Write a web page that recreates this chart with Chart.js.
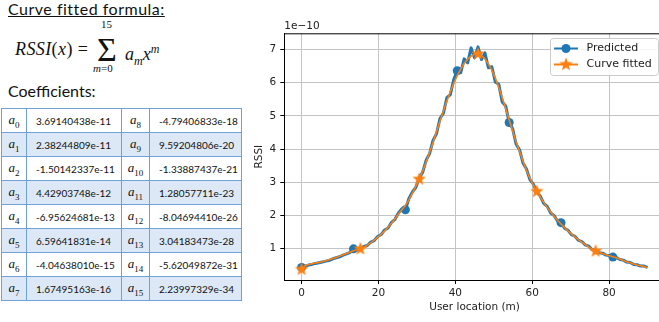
<!DOCTYPE html>
<html>
<head>
<meta charset="utf-8">
<script src="https://cdn.jsdelivr.net/npm/chart.js@4.4.1/dist/chart.umd.min.js"></script>
<style>
  html, body { margin: 0; padding: 0; width: 659px; height: 322px; overflow: hidden; background: #fff; }
  .abs { position: absolute; white-space: nowrap; color: #111; }
  .head { font-family: Lato, sans-serif; font-size: 16px; line-height: 16px; }
  .math { font-family: "Liberation Serif", serif; font-size: 18px; line-height: 18px; }
  #coef { position: absolute; left: 1px; top: 108px; width: 240px; border-collapse: collapse; table-layout: fixed; }
  #coef tr { height: 24px; }
  #coef td { border: 1px solid #6fa1d9; padding: 0; font-family: Lato, sans-serif; font-size: 10px; color: #111; white-space: nowrap; overflow: hidden; }
  #coef tr:nth-child(even) td { background: #dce8f5; }
  #coef td.k { text-align: center; font-family: "Liberation Serif", serif; font-style: italic; font-size: 13px; }
  #coef td.k sub { font-size: 9px; font-style: normal; }
  #coef td.v { padding-left: 9px; }
  #chartBox { position: absolute; left: 250px; top: 0; width: 430px; height: 322px; }
</style>
</head>
<body>
<div class="abs head" style="left:8px;top:1px;text-decoration:underline;letter-spacing:0.5px;">Curve fitted formula:</div>
<div class="abs math" style="left:15px;top:40px;letter-spacing:0.4px;"><i>RSSI</i>(<i>x</i>) =</div>
<div class="abs math" style="left:97px;top:33px;font-size:34px;line-height:34px;">&Sigma;</div>
<div class="abs math" style="left:101px;top:19px;font-size:11px;line-height:11px;">15</div>
<div class="abs math" style="left:93px;top:63px;font-size:11px;line-height:11px;"><i>m</i>=0</div>
<div class="abs math" style="left:125px;top:40px;"><i>a</i><sub style="font-size:12px;"><i>m</i></sub><i>x</i><sup style="font-size:12px;"><i>m</i></sup></div>
<div class="abs head" style="left:8px;top:83px;">Coefficients:</div>
<table id="coef">
  <colgroup><col style="width:25px"><col style="width:95px"><col style="width:28px"><col style="width:92px"></colgroup>
  <tbody id="coefBody"></tbody>
</table>
<div id="chartBox"><canvas id="chart"></canvas></div>
<script>
// coefficient table text
const coefLeft = ['3.69140438e-11', '2.38244809e-11', '-1.50142337e-11', '4.42903748e-12',
  '-6.95624681e-13', '6.59641831e-14', '-4.04638010e-15', '1.67495163e-16'];
const coefRight = ['-4.79406833e-18', '9.59204806e-20', '-1.33887437e-21', '1.28057711e-23',
  '-8.04694410e-26', '3.04183473e-28', '-5.62049872e-31', '2.23997329e-34'];

// chart data (RSSI in units of 1e-10), sampled every 0.9 m
const STEP = 0.9;
const xTicks = [0, 20, 40, 60, 80];
const yTicks = [1, 2, 3, 4, 5, 6, 7];
const predicted = [
  0.43, 0.46, 0.50, 0.52, 0.55, 0.57, 0.59, 0.62, 0.64, 0.69,
  0.72, 0.75, 0.80, 0.84, 0.88, 0.99, 0.95, 1.00, 1.06, 1.09,
  1.19, 1.24, 1.36, 1.42, 1.56, 1.62, 1.79, 1.88, 2.07, 2.20,
  2.17, 2.50, 2.70, 2.84, 3.12, 3.30, 3.66, 3.86, 4.26, 4.46,
  4.92, 5.08, 5.55, 5.64, 6.10, 6.36, 6.30, 6.72, 6.60, 7.05,
  6.75, 7.08, 6.70, 6.90, 6.45, 6.48, 6.02, 5.95, 5.42, 5.30,
  4.80, 4.62, 4.15, 3.98, 3.58, 3.40, 3.08, 2.94, 2.70, 2.58,
  2.36, 2.27, 2.07, 1.99, 1.83, 1.78, 1.61, 1.55, 1.42, 1.37,
  1.25, 1.21, 1.11, 1.07, 0.97, 0.93, 0.87, 0.86, 0.80, 0.79,
  0.74, 0.73, 0.67, 0.65, 0.59, 0.58, 0.52, 0.51, 0.47, 0.47,
  0.43
];
const curveFitted = [
  0.37, 0.48, 0.52, 0.54, 0.56, 0.58, 0.60, 0.63, 0.66, 0.70,
  0.73, 0.77, 0.81, 0.85, 0.89, 0.93, 0.96, 0.99, 1.04, 1.10,
  1.17, 1.25, 1.34, 1.43, 1.53, 1.64, 1.76, 1.90, 2.04, 2.17,
  2.30, 2.46, 2.66, 2.87, 3.09, 3.33, 3.60, 3.90, 4.20, 4.52,
  4.84, 5.15, 5.45, 5.73, 5.98, 6.21, 6.41, 6.58, 6.71, 6.80,
  6.86, 6.87, 6.82, 6.72, 6.57, 6.38, 6.14, 5.86, 5.55, 5.22,
  4.88, 4.55, 4.22, 3.93, 3.64, 3.36, 3.12, 2.91, 2.72, 2.55,
  2.39, 2.24, 2.10, 1.97, 1.85, 1.74, 1.63, 1.53, 1.44, 1.35,
  1.27, 1.19, 1.12, 1.05, 0.98, 0.92, 0.88, 0.85, 0.81, 0.78,
  0.75, 0.72, 0.68, 0.64, 0.60, 0.57, 0.53, 0.50, 0.48, 0.46,
  0.42
];
const userLocation = predicted.map((_, i) => Math.round(i * STEP * 10) / 10);

const BLUE = '#1f77b4';
const ORANGE = '#ff7f0e';

// table
const body = document.getElementById('coefBody');
coefLeft.forEach((v, i) => {
  const tr = document.createElement('tr');
  tr.innerHTML = '<td class="k">a<sub>' + i + '</sub></td><td class="v">' + v +
    '</td><td class="k">a<sub>' + (i + 8) + '</sub></td><td class="v">' + coefRight[i] + '</td>';
  body.appendChild(tr);
});

// filled five point star like matplotlib's '*'
function makeStar(r, color) {
  const s = Math.ceil(r * 2 + 2);
  const c = document.createElement('canvas');
  c.width = s; c.height = s;
  const g = c.getContext('2d');
  g.fillStyle = color;
  g.beginPath();
  for (let k = 0; k < 10; k++) {
    const rr = k % 2 === 0 ? r : r * 0.42;
    const a = -Math.PI / 2 + k * Math.PI / 5;
    g.lineTo(s / 2 + rr * Math.cos(a), s / 2 + rr * Math.sin(a));
  }
  g.closePath();
  g.fill();
  return c;
}
const star = makeStar(7, ORANGE);

const extras = {
  id: 'extras',
  afterDraw(chart) {
    const { ctx, chartArea: a } = chart;
    ctx.save();
    ctx.strokeStyle = '#000';
    ctx.lineWidth = 1;
    ctx.beginPath();
    ctx.moveTo(a.left, a.top + 0.5);
    ctx.lineTo(a.right, a.top + 0.5);
    ctx.moveTo(a.right - 0.5, a.top);
    ctx.lineTo(a.right - 0.5, a.bottom);
    ctx.stroke();

    ctx.fillStyle = '#222';
    ctx.font = '10.5px "DejaVu Sans"';
    ctx.textBaseline = 'middle';
    ctx.textAlign = 'left';
    ctx.fillText('1e\u221210', a.left, 26);

    // legend
    const lx = 300.5, ly = 38.5, lw = 108, lh = 37;
    ctx.beginPath();
    ctx.roundRect(lx, ly, lw, lh, 3);
    ctx.fillStyle = 'rgba(255,255,255,0.85)';
    ctx.fill();
    ctx.strokeStyle = '#cccccc';
    ctx.stroke();

    const rows = [
      { y: 48.5, color: BLUE, text: 'Predicted' },
      { y: 64.5, color: ORANGE, text: 'Curve fitted' }
    ];
    rows.forEach((r, i) => {
      ctx.strokeStyle = r.color;
      ctx.lineWidth = 2;
      ctx.beginPath();
      ctx.moveTo(304, r.y);
      ctx.lineTo(328, r.y);
      ctx.stroke();
      if (i === 0) {
        ctx.fillStyle = BLUE;
        ctx.beginPath();
        ctx.arc(316, r.y, 4.5, 0, Math.PI * 2);
        ctx.fill();
      } else {
        ctx.drawImage(star, 316 - star.width / 2, r.y - star.height / 2);
      }
      ctx.fillStyle = '#222';
      ctx.font = '11px "DejaVu Sans"';
      ctx.fillText(r.text, 336.5, r.y);
    });
    ctx.restore();
  }
};

const tickFont = { family: 'DejaVu Sans', size: 10.5 };

new Chart(document.getElementById('chart'), {
  type: 'line',
  data: {
    datasets: [{
      label: 'Predicted',
      data: userLocation.map((x, i) => ({ x: x, y: predicted[i] })),
      borderColor: BLUE,
      backgroundColor: BLUE,
      borderWidth: 3,
      borderJoinStyle: 'round',
      tension: 0,
      pointStyle: 'circle',
      pointRadius: ctx => (ctx.index % 15 === 0 ? 4.5 : 0),
      pointBorderWidth: 0,
      pointBackgroundColor: BLUE,
      order: 1
    }, {
      label: 'Curve fitted',
      data: userLocation.map((x, i) => ({ x: x, y: curveFitted[i] })),
      borderColor: ORANGE,
      backgroundColor: ORANGE,
      borderWidth: 1.6,
      borderJoinStyle: 'round',
      tension: 0,
      pointStyle: star,
      pointRadius: ctx => (ctx.index % 17 === 0 ? 6 : 0),
      order: 0
    }]
  },
  options: {
    responsive: true,
    maintainAspectRatio: false,
    animation: false,
    layout: { padding: { top: 33.3, right: 15.2, left: 0, bottom: 0 } },
    plugins: {
      legend: { display: false },
      tooltip: { enabled: false }
    },
    scales: {
      x: {
        type: 'linear',
        min: -4.5,
        max: 94.5,
        afterBuildTicks: scale => { scale.ticks = xTicks.map(v => ({ value: v })); },
        afterFit: scale => { scale.height = 42; },
        grid: { color: '#c4c4c4', lineWidth: 1, tickLength: 4, tickColor: '#000' },
        border: { color: '#000', width: 1 },
        ticks: { color: '#222', font: tickFont, padding: 3, maxRotation: 0 },
        title: { display: true, text: 'User location (m)', color: '#222', font: tickFont, padding: { top: 0, bottom: 8 } }
      },
      y: {
        min: 0.05,
        max: 7.49,
        afterBuildTicks: scale => { scale.ticks = yTicks.map(v => ({ value: v })); },
        afterFit: scale => { scale.width = 34.3; },
        grid: { color: '#c4c4c4', lineWidth: 1, tickLength: 4, tickColor: '#000' },
        border: { color: '#000', width: 1 },
        ticks: { color: '#222', font: tickFont, padding: 4 },
        title: { display: true, text: 'RSSI', color: '#222', font: tickFont, padding: { top: 2.5, bottom: 0 } }
      }
    }
  },
  plugins: [extras]
});
</script>
</body>
</html>
